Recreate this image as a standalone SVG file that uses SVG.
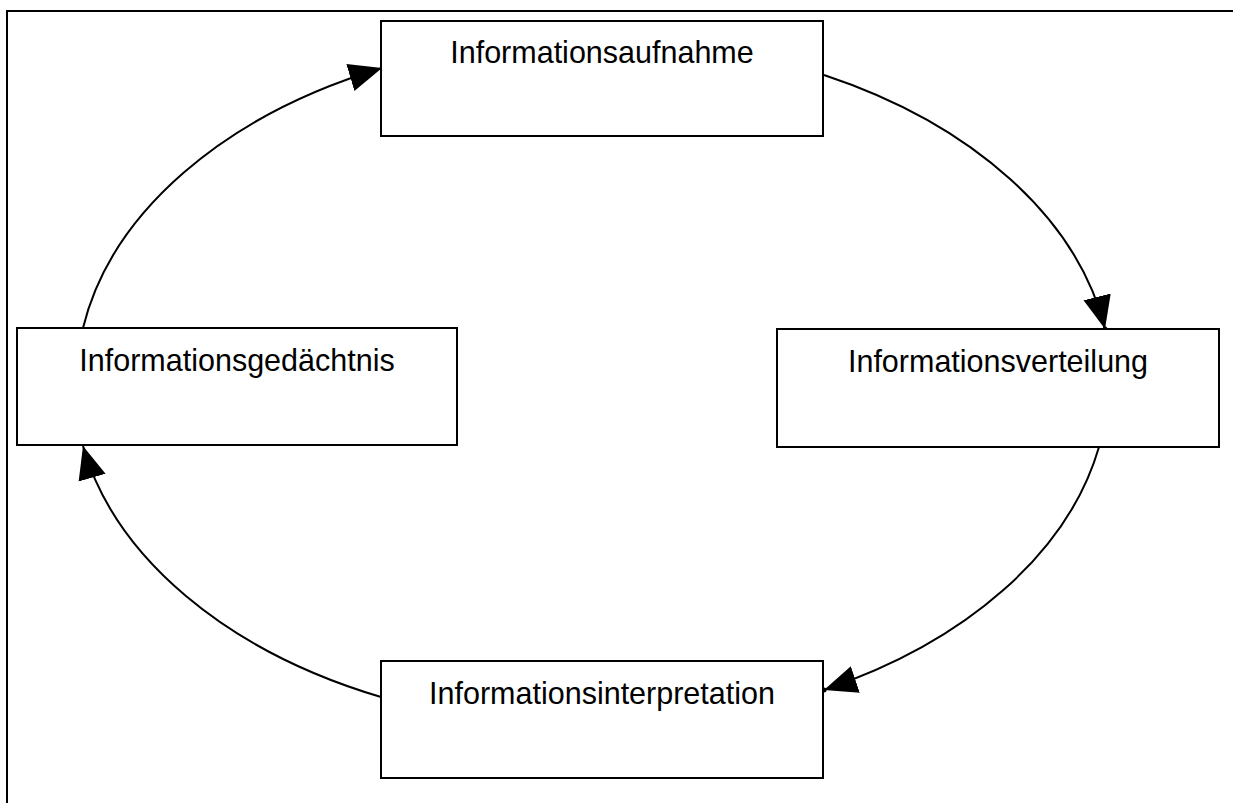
<svg xmlns="http://www.w3.org/2000/svg" width="1233" height="803" viewBox="0 0 1233 803">
<style>
.box{fill:#fff;stroke:#000;stroke-width:2}
.lbl{font-family:"Liberation Sans",Arial,sans-serif;font-size:30.5px;fill:#000;text-anchor:middle}
.con{fill:none;stroke:#000;stroke-width:2}
</style>
<defs>
<marker id="arr" markerUnits="userSpaceOnUse" markerWidth="36" markerHeight="32" viewBox="0 0 36 32" refX="33" refY="16" orient="auto">
<path d="M0,2 L33,16 L0,30 Z" fill="#000"/>
</marker>
</defs>
<rect x="7" y="11" width="1260" height="820" fill="none" stroke="#000" stroke-width="2"/>
<g id="connectors">
<path class="con" d="M824,75 A517,346 0 0,1 1105,329" marker-end="url(#arr)"/>
<path class="con" d="M1099,447 A517,346 0 0,1 824,690" marker-end="url(#arr)"/>
<path class="con" d="M381,697 A517,346 0 0,1 83,446" marker-end="url(#arr)"/>
<path class="con" d="M83,328 A517,346 0 0,1 382,68" marker-end="url(#arr)"/>
<circle cx="1105" cy="329" r="2.5" fill="#000"/>
<circle cx="824" cy="690" r="2.5" fill="#000"/>
</g>
<g id="n1"><rect class="box" x="381" y="21" width="442" height="115"/><text class="lbl" x="602" y="63">Informationsaufnahme</text></g>
<g id="n2"><rect class="box" x="777" y="329" width="442" height="118"/><text class="lbl" x="998" y="372">Informationsverteilung</text></g>
<g id="n3"><rect class="box" x="381" y="661" width="442" height="117"/><text class="lbl" x="602" y="704">Informationsinterpretation</text></g>
<g id="n4"><rect class="box" x="17" y="328" width="440" height="117"/><text class="lbl" x="237" y="371">Informationsgedächtnis</text></g>
</svg>
